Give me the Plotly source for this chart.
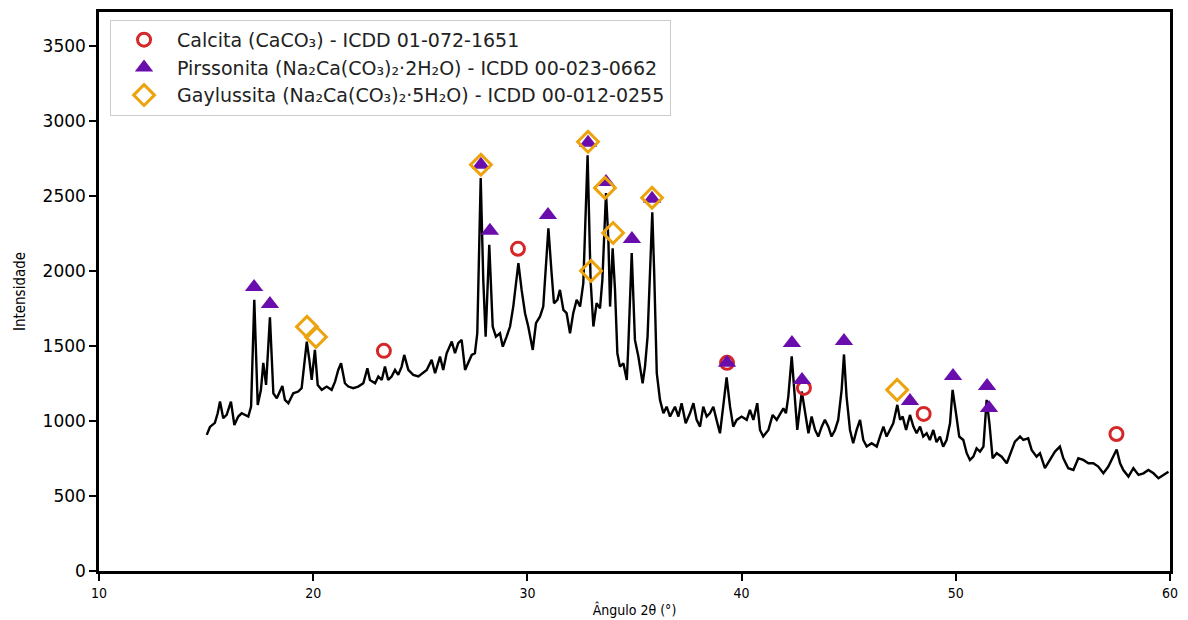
import plotly.graph_objects as go

# ---- XRD pattern (angle 2theta, intensity) ----
angle = [15.03, 15.18, 15.41, 15.54, 15.65, 15.80, 15.96, 16.16, 16.32, 16.50, 16.66, 16.82, 16.97, 17.10,
         17.25, 17.41, 17.56, 17.67, 17.80, 17.98, 18.14, 18.30, 18.56, 18.68, 18.84, 19.07, 19.30, 19.46,
         19.70, 19.82, 19.93, 20.08, 20.21, 20.40, 20.63, 20.86, 21.02, 21.17, 21.30, 21.48, 21.64, 21.87,
         22.10, 22.34, 22.53, 22.65, 22.89, 23.04, 23.20, 23.35, 23.50, 23.66, 23.82, 23.97, 24.13, 24.25,
         24.44, 24.67, 24.91,
         25.30, 25.53, 25.69, 25.92, 26.07, 26.23, 26.47, 26.62, 26.77, 26.93, 27.09, 27.24, 27.40, 27.55,
         27.66, 27.82, 27.94, 28.05, 28.22, 28.38, 28.53, 28.72, 28.85, 29.03, 29.19, 29.34, 29.58, 29.73,
         29.89, 30.04, 30.25, 30.40, 30.59, 30.74, 30.98, 31.13, 31.24, 31.40, 31.52, 31.68, 31.83, 31.99,
         32.14, 32.30, 32.46, 32.61, 32.81, 32.95, 33.08, 33.23, 33.39,
         33.50, 33.67, 33.78, 33.86, 33.98, 34.09, 34.20, 34.32, 34.48, 34.64, 34.71, 34.87, 35.02, 35.18,
         35.38, 35.49, 35.61, 35.72, 35.83, 35.92, 36.04, 36.19, 36.35, 36.50, 36.66, 36.89, 37.05, 37.20,
         37.39, 37.59, 37.75, 37.90, 38.06, 38.21, 38.37, 38.52, 38.68, 38.83, 38.99, 39.14, 39.30, 39.46,
         39.61, 39.77, 40.00, 40.24, 40.39, 40.55, 40.73,
         40.86, 41.01, 41.25, 41.45, 41.64, 41.79, 41.95, 42.07, 42.18, 42.34, 42.49, 42.60, 42.81, 42.96,
         43.12, 43.27, 43.43, 43.58, 43.74, 43.89, 44.05, 44.20, 44.36, 44.51, 44.67, 44.78, 44.90, 45.06,
         45.21, 45.37, 45.53, 45.68, 45.84, 46.07, 46.31, 46.46, 46.62, 46.77, 46.93, 47.08, 47.27, 47.40,
         47.52, 47.68, 47.86, 48.02, 48.17, 48.33, 48.48, 48.64, 48.79, 48.95, 49.10, 49.26, 49.41, 49.57,
         49.73, 49.85, 50.01, 50.16, 50.35, 50.51,
         50.66, 50.82, 50.97, 51.13, 51.29, 51.44, 51.57, 51.72, 51.91, 52.14, 52.38, 52.61, 52.76, 53.00,
         53.15, 53.38, 53.54, 53.77, 53.93, 54.16, 54.40, 54.63, 54.86, 55.02, 55.25, 55.49, 55.72, 55.95,
         56.19, 56.42, 56.65, 56.89, 57.12, 57.36, 57.51, 57.67, 57.82, 58.06, 58.29, 58.53, 58.76, 58.99,
         59.23, 59.46, 59.70, 59.93]

intensity = [907, 960, 987, 1051, 1129, 1018, 1040, 1129, 973, 1029, 1051, 1040, 1029, 1095,
             1807, 1107, 1207, 1387, 1240, 1690, 1184, 1151, 1233, 1140, 1118, 1184, 1196, 1218,
             1529, 1407, 1273, 1473, 1240, 1207, 1229, 1207, 1262, 1340, 1384, 1251, 1229, 1218,
             1229, 1251, 1351, 1273, 1251, 1296, 1273, 1362, 1273, 1296, 1340, 1307, 1362, 1440,
             1340, 1307, 1296,
             1340, 1407, 1318, 1429, 1340, 1451, 1529, 1451, 1518, 1540, 1340, 1384, 1440, 1451,
             1584, 2618, 1940, 1562, 2173, 1629, 1562, 1584, 1495, 1562, 1629, 1762, 2051, 1873,
             1718, 1629, 1473, 1651, 1696, 1762, 2284, 1984, 1784, 1807, 1873, 1740, 1718, 1584,
             1718, 1807, 1762, 1918, 2770, 1940, 1629, 1784, 1750,
             1940, 2518, 2207, 1762, 2151, 1873, 1451, 1362, 1384, 1273, 1495, 2118, 1540, 1429,
             1251, 1362, 1562, 1984, 2390, 1984, 1318, 1140, 1051, 1095, 1029, 1095, 1029, 1118,
             984, 1051, 1118, 1007, 962, 1095, 1029, 1051, 1095, 1007, 918, 1095, 1290, 1095,
             962, 1007, 1029, 1007, 1073, 1007, 1118,
             940, 896, 940, 1040, 1007, 1040, 1084, 1051, 1162, 1430, 1162, 940, 1196, 1051,
             918, 1029, 940, 896, 962, 1007, 962, 896, 940, 1007, 1207, 1443, 1162, 940,
             851, 940, 1007, 873, 829, 851, 829, 896, 962, 896, 940, 984, 1107, 1007,
             1029, 940, 1040, 962, 918, 962, 896, 918, 873, 940, 858, 896, 829, 873,
             984, 1207, 1051, 896, 873, 785,
             740, 762, 818, 796, 829, 1140, 984, 751, 785, 762, 718, 807, 862, 896,
             873, 884, 807, 762, 785, 685, 740, 796, 829, 751, 685, 673, 751, 740,
             718, 718, 696, 651, 696, 762, 810, 718, 673, 629, 685, 640, 651, 673,
             651, 618, 640, 662]

# ---- Phase markers ----
calcita_x = [23.30, 29.56, 39.32, 42.91, 48.50, 57.50]
calcita_y = [1467, 2147, 1387, 1220, 1047, 913]

pirssonita_x = [17.24, 17.98, 27.83, 28.25, 30.96, 32.83, 33.67, 34.88, 35.82, 39.32,
                42.35, 42.82, 44.78, 47.86, 49.87, 51.46, 51.55]
pirssonita_y = [1893, 1780, 2707, 2267, 2373, 2853, 2593, 2213, 2480, 1387,
                1520, 1273, 1533, 1133, 1300, 1233, 1087]

gaylussita_x = [19.71, 20.13, 27.83, 32.83, 32.97, 33.62, 34.00, 35.82, 47.26]
gaylussita_y = [1627, 1560, 2707, 2860, 2000, 2553, 2253, 2487, 1207]

x_ticks = [10, 20, 30, 40, 50, 60]
y_ticks = [0, 500, 1000, 1500, 2000, 2500, 3000, 3500]

fig = go.Figure()

fig.add_trace(go.Scatter(x=angle, y=intensity, mode="lines",
                         line=dict(color="black", width=2.4), showlegend=False, hoverinfo="skip"))

fig.add_trace(go.Scatter(x=calcita_x, y=calcita_y, mode="markers",
                         name="Calcita (CaCO₃) - ICDD 01-072-1651",
                         marker=dict(symbol="circle-open", size=13, color="#d62728",
                                     line=dict(width=3, color="#d62728"))))
fig.add_trace(go.Scatter(x=pirssonita_x, y=pirssonita_y, mode="markers",
                         name="Pirssonita (Na₂Ca(CO₃)₂·2H₂O) - ICDD 00-023-0662",
                         marker=dict(symbol="triangle-up", size=16, color="#6a0dad",
                                     line=dict(width=0))))
fig.add_trace(go.Scatter(x=gaylussita_x, y=gaylussita_y, mode="markers",
                         name="Gaylussita (Na₂Ca(CO₃)₂·5H₂O) - ICDD 00-012-0255",
                         marker=dict(symbol="diamond-open", size=16, color="#eda30e",
                                     line=dict(width=3, color="#eda30e"))))

fig.update_layout(
    width=1188, height=620,
    margin=dict(l=99, r=18, t=12, b=49),
    paper_bgcolor="white", plot_bgcolor="white",
    font=dict(family="DejaVu Sans", color="black"),
    legend=dict(x=0.0103, y=0.986, xanchor="left", yanchor="top",
                bgcolor="rgba(255,255,255,0.9)", bordercolor="#cccccc", borderwidth=1,
                font=dict(family="DejaVu Sans", size=19, color="#222222"),
                itemsizing="trace", itemwidth=56, tracegroupgap=0),
)

fig.update_xaxes(range=[10, 60], tickvals=x_ticks, ticktext=[str(v) for v in x_ticks],
                 showgrid=False, zeroline=False, automargin=False,
                 showline=True, linecolor="black", linewidth=2.5, mirror=True,
                 ticks="outside", ticklen=7, tickwidth=2, tickcolor="black",
                 tickfont=dict(family="DejaVu Sans Condensed", size=14),
                 title=dict(text="Ângulo 2θ (°)", font=dict(family="DejaVu Sans Condensed", size=14),
                            standoff=6))
fig.update_yaxes(range=[0, 3725], tickvals=y_ticks, ticktext=[str(v) for v in y_ticks],
                 showgrid=False, zeroline=False, automargin=False,
                 showline=True, linecolor="black", linewidth=2.5, mirror=True,
                 ticks="outside", ticklen=7, tickwidth=2, tickcolor="black",
                 tickfont=dict(family="DejaVu Sans", size=17),
                 title=dict(text="Intensidade", font=dict(family="DejaVu Sans Condensed", size=15),
                            standoff=14))

fig.write_html("out.html")
